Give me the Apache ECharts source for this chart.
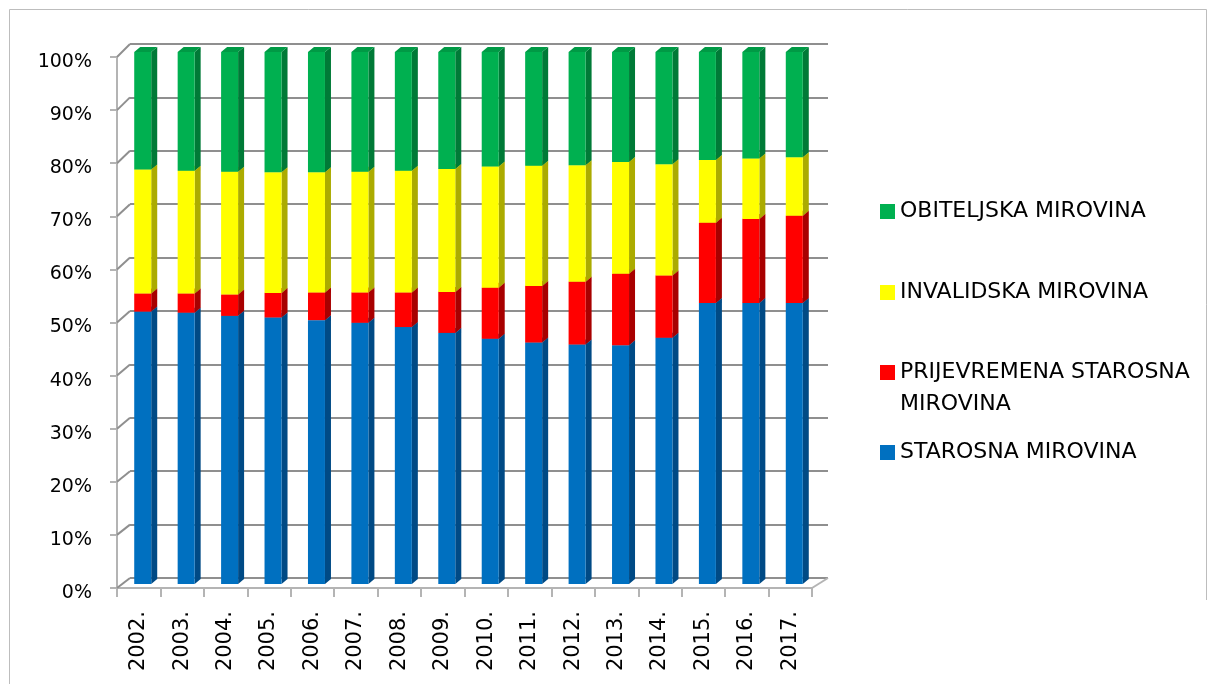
<!DOCTYPE html>
<html lang="hr">
<head>
<meta charset="UTF-8">
<title>Struktura mirovina 2002.-2017.</title>
<style>
  html, body { margin: 0; padding: 0; background: #fff; }
  #main { width: 1215px; height: 684px; }
</style>
</head>
<body>
<div id="main"></div>
<script src="https://cdn.jsdelivr.net/npm/echarts@6/dist/echarts.min.js"></script>
<script>
  // podaci (udio u %), očitano sa slike
  const godine = ['2002.', '2003.', '2004.', '2005.', '2006.', '2007.', '2008.', '2009.',
                  '2010.', '2011.', '2012.', '2013.', '2014.', '2015.', '2016.', '2017.'];
  const starosna     = [51.2, 51.0, 50.4, 50.1, 49.6, 49.1, 48.3, 47.2, 46.1, 45.4, 45.0, 44.9, 46.3, 52.8, 52.8, 52.8];
  const prijevremena = [3.4, 3.6, 4.0, 4.6, 5.2, 5.7, 6.5, 7.7, 9.6, 10.6, 11.8, 13.4, 11.7, 15.1, 15.8, 16.4];
  const invalidska   = [23.3, 23.1, 23.1, 22.7, 22.6, 22.7, 22.9, 23.1, 22.8, 22.6, 21.9, 21.0, 20.9, 11.8, 11.4, 11.0];
  const obiteljska   = [22.1, 22.3, 22.5, 22.6, 22.6, 22.5, 22.3, 22.0, 21.5, 21.4, 21.3, 20.7, 21.1, 20.3, 20.0, 19.8];
  const postotci = [0, 10, 20, 30, 40, 50, 60, 70, 80, 90, 100];

  const slojevi = [
    { name: 'STAROSNA MIROVINA', data: starosna, boja: '#0070C0', bok: '#004A85', vrh: '#005A9E' },
    { name: 'PRIJEVREMENA STAROSNA MIROVINA', data: prijevremena, boja: '#FF0000', bok: '#A80000', vrh: '#CC0000' },
    { name: 'INVALIDSKA MIROVINA', data: invalidska, boja: '#FFFF00', bok: '#ABAB00', vrh: '#D6D600' },
    { name: 'OBITELJSKA MIROVINA', data: obiteljska, boja: '#00B050', bok: '#007A37', vrh: '#009A45' }
  ];

  const font = 'DejaVu Sans';
  const sivaMreza = '#8f8f8f';
  const sivaOs = '#b4b4b4';

  // pseudo 3D stupac: prednja strana, desni bok i gornja ploha
  function stupac(sloj) {
    return function (params, api) {
      const i = api.value(0);
      const p0 = api.coord([i, api.value(1)]);
      const p1 = api.coord([i, api.value(2)]);
      const w = 17, dx = 6, dy = 5;
      const l = p0[0] - w / 2, r = l + w;
      return {
        type: 'group',
        children: [
          { type: 'polygon', shape: { points: [[r, p1[1]], [r + dx, p1[1] - dy], [r + dx, p0[1] - dy], [r, p0[1]]] },
            style: { fill: sloj.bok } },
          { type: 'polygon', shape: { points: [[l, p1[1]], [l + dx, p1[1] - dy], [r + dx, p1[1] - dy], [r, p1[1]]] },
            style: { fill: sloj.vrh } },
          { type: 'rect', shape: { x: l, y: p1[1], width: w, height: p0[1] - p1[1] },
            style: { fill: sloj.boja } }
        ]
      };
    };
  }

  // kose linije između prednje osi i stražnjeg zida + desni rub poda
  function okvir(params, api) {
    const cs = params.coordSys;
    const v = api.value(1);
    const yb = api.coord([0, v])[1];
    const yf = yb + 10 + 3 * v / 100;
    const children = [
      { type: 'line', shape: { x1: cs.x - 13, y1: yf, x2: cs.x, y2: yb },
        style: { stroke: sivaMreza, lineWidth: 2 } }
    ];
    if (v === 0) {
      children.push({ type: 'line', shape: { x1: cs.x + cs.width - 16, y1: yf, x2: cs.x + cs.width, y2: yb },
        style: { stroke: sivaOs, lineWidth: 2 } });
    }
    return { type: 'group', children: children };
  }

  const series = [];
  let baza = godine.map(() => 0);
  slojevi.forEach(sloj => {
    const podaci = sloj.data.map((v, i) => [i, baza[i], baza[i] + v]);
    baza = baza.map((b, i) => b + sloj.data[i]);
    series.push({
      type: 'custom',
      name: sloj.name,
      xAxisIndex: 2,
      yAxisIndex: 2,
      itemStyle: { color: sloj.boja },
      renderItem: stupac(sloj),
      encode: { x: 0, y: 2 },
      data: podaci,
      silent: true
    });
  });
  series.push({
    type: 'custom',
    xAxisIndex: 1,
    yAxisIndex: 1,
    renderItem: okvir,
    encode: { x: 0, y: 1 },
    data: postotci.map(v => [0, v]),
    silent: true,
    z: 1
  });

  // legende (jedna po stavci da se poravnaju kao na slici)
  const legendTop = [200.5, 281.5, 324.5, 441.5];
  const legendOrder = [3, 2, 1, 0];
  const legends = legendOrder.map((k, j) => ({
    orient: 'vertical',
    left: 880,
    top: legendTop[j],
    padding: 0,
    itemWidth: 15,
    itemHeight: 15,
    icon: 'rect',
    selectedMode: false,
    data: [slojevi[k].name],
    // prazan prvi red: prvi red teksta ostaje u visini ikone
    formatter: n => n === 'PRIJEVREMENA STAROSNA MIROVINA' ? ' \nPRIJEVREMENA STAROSNA\nMIROVINA' : n,
    textStyle: k === 1
      ? { fontFamily: font, fontSize: 22, color: '#000', lineHeight: 32 }
      : { fontFamily: font, fontSize: 22, color: '#000', lineHeight: 22 }
  }));

  const chart = echarts.init(document.getElementById('main'), null, { renderer: 'canvas' });
  chart.setOption({
    animation: false,
    backgroundColor: '#fff',
    graphic: [{
      type: 'polyline',
      shape: { points: [[9.5, 690], [9.5, 9.5], [1206.5, 9.5], [1206.5, 600]] },
      style: { stroke: '#bdbdbd', lineWidth: 1, fill: null },
      silent: true
    }],
    legend: legends,
    grid: [
      { left: 117, right: 403, top: 57, bottom: 96 },   // prednja ravnina (osi)
      { left: 130, right: 387, top: 44, bottom: 106 },  // stražnji zid (mreža)
      { left: 121, right: 399, top: 52, bottom: 100 }   // stupci
    ],
    xAxis: [
      {
        type: 'category', gridIndex: 0, data: godine, boundaryGap: true,
        axisLine: { lineStyle: { color: sivaOs, width: 2 } },
        axisTick: { show: true, length: 9, lineStyle: { color: sivaOs, width: 2 } },
        axisLabel: { interval: 0, rotate: 90, margin: 23, fontFamily: font, fontSize: 21, color: '#000' },
        splitLine: { show: false }
      },
      { type: 'category', gridIndex: 1, data: ['x'], show: false },
      { type: 'category', gridIndex: 2, data: godine, show: false }
    ],
    yAxis: [
      {
        type: 'value', gridIndex: 0, min: 0, max: 100, interval: 10,
        axisLine: { show: true, lineStyle: { color: sivaOs, width: 2 } },
        axisTick: { show: true, length: 7, lineStyle: { color: sivaOs, width: 2 } },
        axisLabel: {
          formatter: v => '{a|' + v + '%}', margin: 25,
          rich: { a: { fontFamily: font, fontSize: 19, color: '#000', padding: [10, 0, 0, 0] } }
        },
        splitLine: { show: false }
      },
      {
        type: 'value', gridIndex: 1, min: 0, max: 100, interval: 10,
        axisLine: { show: false }, axisTick: { show: false }, axisLabel: { show: false },
        splitLine: { show: true, lineStyle: { color: sivaMreza, width: 2 } }
      },
      { type: 'value', gridIndex: 2, min: 0, max: 100, show: false, splitLine: { show: false } }
    ],
    series: series
  });
</script>
</body>
</html>
